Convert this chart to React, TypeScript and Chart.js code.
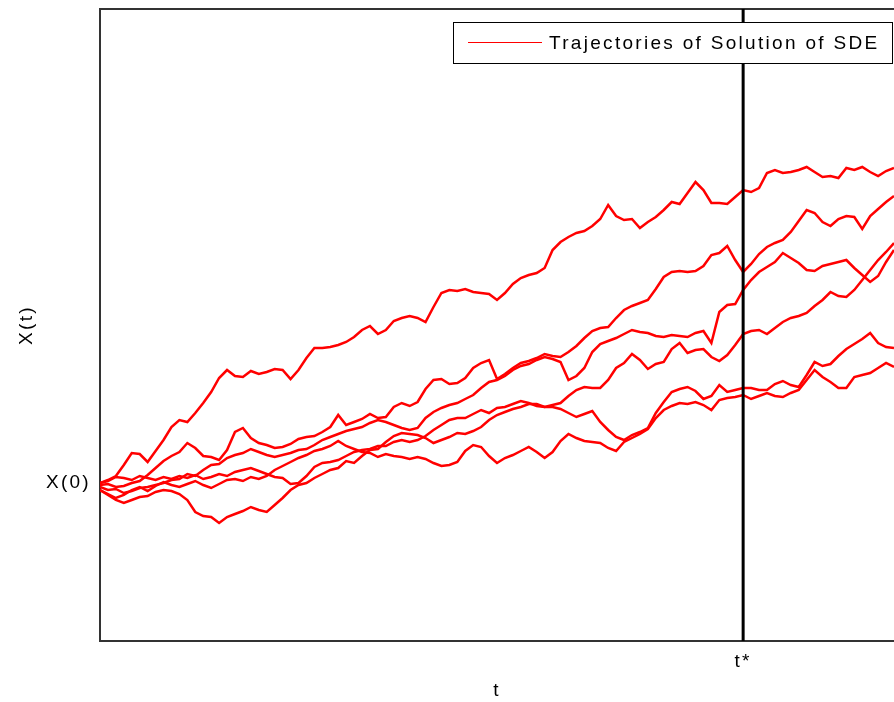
import React, { useEffect, useRef } from 'react';
import { Chart, registerables } from 'chart.js';

Chart.register(...registerables);

// Time grid t = 0.00 ... 1.00 (step 0.01)
const T_GRID: number[] = Array.from({ length: 101 }, (_, i) => Math.round(i) / 100);
const T_STAR = 0.81;
const X0 = 2.0;
const Y_MIN = 0.42;
const Y_MAX = 6.74;

// Sample paths of the SDE, one value per grid time
const PATH_1 = [
  2.00, 2.03, 2.07, 2.18, 2.30, 2.29, 2.21, 2.32, 2.43, 2.56,
  2.63, 2.61, 2.70, 2.80, 2.91, 3.05, 3.13, 3.07, 3.06, 3.12,
  3.09, 3.11, 3.14, 3.13, 3.04, 3.13, 3.25, 3.35, 3.35, 3.36,
  3.38, 3.41, 3.46, 3.53, 3.57, 3.49, 3.53, 3.62, 3.65, 3.67,
  3.65, 3.61, 3.76, 3.90, 3.93, 3.92, 3.94, 3.91, 3.90, 3.89,
  3.83, 3.90, 3.99, 4.05, 4.08, 4.10, 4.15, 4.33, 4.41, 4.46,
  4.50, 4.52, 4.57, 4.64, 4.78, 4.67, 4.63, 4.64, 4.55, 4.61,
  4.66, 4.73, 4.81, 4.79, 4.90, 5.01, 4.93, 4.80, 4.80, 4.79,
  4.86, 4.93, 4.91, 4.95, 5.10, 5.13, 5.10, 5.11, 5.13, 5.16,
  5.11, 5.06, 5.07, 5.05, 5.15, 5.13, 5.16, 5.11, 5.07, 5.12, 5.15,
];

const PATH_2 = [
  1.98, 1.99, 1.96, 1.97, 2.00, 2.02, 2.08, 2.15, 2.22, 2.27,
  2.31, 2.40, 2.35, 2.27, 2.26, 2.23, 2.33, 2.51, 2.55, 2.45,
  2.40, 2.38, 2.35, 2.36, 2.39, 2.44, 2.46, 2.47, 2.51, 2.56,
  2.68, 2.58, 2.61, 2.64, 2.69, 2.65, 2.66, 2.76, 2.80, 2.77,
  2.81, 2.94, 3.03, 3.04, 2.99, 3.00, 3.05, 3.15, 3.20, 3.23,
  3.04, 3.09, 3.15, 3.20, 3.22, 3.25, 3.29, 3.27, 3.26, 3.31,
  3.37, 3.45, 3.52, 3.55, 3.56, 3.65, 3.73, 3.77, 3.80, 3.83,
  3.94, 4.06, 4.11, 4.12, 4.11, 4.12, 4.17, 4.28, 4.30, 4.37,
  4.23, 4.11, 4.19, 4.29, 4.36, 4.40, 4.43, 4.51, 4.62, 4.73,
  4.70, 4.61, 4.57, 4.64, 4.67, 4.66, 4.54, 4.67, 4.74, 4.81, 4.87,
];

const PATH_3 = [
  1.96, 1.93, 1.94, 1.90, 1.92, 1.95, 1.96, 1.98, 2.00, 2.03,
  2.04, 2.09, 2.07, 2.13, 2.18, 2.19, 2.25, 2.28, 2.30, 2.34,
  2.31, 2.28, 2.26, 2.28, 2.30, 2.33, 2.34, 2.38, 2.43, 2.46,
  2.49, 2.52, 2.54, 2.56, 2.60, 2.63, 2.61, 2.58, 2.55, 2.53,
  2.55, 2.65, 2.71, 2.75, 2.78, 2.80, 2.84, 2.88, 2.95, 3.01,
  3.03, 3.07, 3.13, 3.17, 3.19, 3.23, 3.26, 3.24, 3.21, 3.03,
  3.07, 3.15, 3.31, 3.39, 3.42, 3.45, 3.49, 3.53, 3.51, 3.50,
  3.47, 3.46, 3.48, 3.47, 3.46, 3.50, 3.52, 3.40, 3.71, 3.78,
  3.79, 3.93, 4.03, 4.11, 4.16, 4.21, 4.30, 4.25, 4.20, 4.13,
  4.12, 4.17, 4.19, 4.21, 4.23, 4.15, 4.08, 4.01, 4.07, 4.21, 4.33,
];

const PATH_4 = [
  1.93, 1.88, 1.83, 1.80, 1.83, 1.86, 1.87, 1.91, 1.93, 1.92,
  1.89, 1.83, 1.71, 1.67, 1.66, 1.60, 1.66, 1.69, 1.72, 1.76,
  1.73, 1.71, 1.78, 1.85, 1.93, 1.98, 2.00, 2.05, 2.09, 2.13,
  2.15, 2.22, 2.20, 2.27, 2.33, 2.34, 2.41, 2.47, 2.50, 2.49,
  2.48, 2.45, 2.40, 2.43, 2.46, 2.50, 2.49, 2.52, 2.56, 2.63,
  2.68, 2.71, 2.74, 2.76, 2.79, 2.79, 2.76, 2.78, 2.80, 2.87,
  2.93, 2.96, 2.95, 2.95, 3.03, 3.15, 3.20, 3.29, 3.23, 3.14,
  3.19, 3.21, 3.34, 3.40, 3.30, 3.33, 3.34, 3.26, 3.22, 3.28,
  3.38, 3.49, 3.52, 3.53, 3.49, 3.55, 3.61, 3.65, 3.67, 3.70,
  3.77, 3.83, 3.91, 3.87, 3.86, 3.93, 4.03, 4.13, 4.23, 4.31, 4.40,
];

const PATH_5 = [
  2.00, 2.02, 2.06, 2.05, 2.03, 2.07, 2.05, 2.03, 2.06, 2.04,
  2.07, 2.05, 2.08, 2.04, 2.06, 2.09, 2.07, 2.11, 2.13, 2.15,
  2.12, 2.09, 2.06, 2.05, 1.99, 2.00, 2.07, 2.16, 2.20, 2.21,
  2.23, 2.27, 2.31, 2.33, 2.34, 2.37, 2.37, 2.41, 2.43, 2.41,
  2.43, 2.47, 2.53, 2.58, 2.63, 2.65, 2.65, 2.69, 2.73, 2.70,
  2.75, 2.76, 2.79, 2.82, 2.80, 2.77, 2.76, 2.76, 2.74, 2.70,
  2.66, 2.69, 2.72, 2.61, 2.53, 2.46, 2.43, 2.48, 2.51, 2.55,
  2.70, 2.81, 2.91, 2.94, 2.96, 2.92, 2.84, 2.87, 2.98, 2.91,
  2.93, 2.95, 2.95, 2.93, 2.93, 2.99, 3.02, 2.98, 2.96, 3.08,
  3.21, 3.17, 3.19, 3.27, 3.34, 3.39, 3.44, 3.50, 3.40, 3.36, 3.35,
];

const PATH_6 = [
  1.93, 1.89, 1.85, 1.88, 1.93, 1.96, 1.92, 1.97, 2.01, 1.98,
  1.96, 1.99, 2.02, 1.98, 1.95, 1.99, 2.03, 2.04, 2.02, 2.06,
  2.04, 2.07, 2.13, 2.17, 2.21, 2.25, 2.28, 2.32, 2.34, 2.37,
  2.42, 2.37, 2.34, 2.31, 2.30, 2.26, 2.29, 2.27, 2.26, 2.24,
  2.26, 2.24, 2.20, 2.17, 2.18, 2.21, 2.32, 2.38, 2.36, 2.27,
  2.20, 2.25, 2.28, 2.32, 2.36, 2.31, 2.25, 2.31, 2.42, 2.49,
  2.45, 2.42, 2.41, 2.40, 2.35, 2.32, 2.41, 2.45, 2.49, 2.54,
  2.65, 2.73, 2.77, 2.80, 2.79, 2.81, 2.78, 2.73, 2.83, 2.85,
  2.86, 2.88, 2.84, 2.87, 2.90, 2.87, 2.86, 2.90, 2.93, 3.03,
  3.13, 3.06, 3.01, 2.95, 2.95, 3.06, 3.08, 3.10, 3.15, 3.20, 3.16,
];

const PATHS = [PATH_1, PATH_2, PATH_3, PATH_4, PATH_5, PATH_6];

const LEGEND_TEXT = 'Trajectories of Solution of SDE';
const FONT_FAMILY = "'Liberation Sans', Arial, Helvetica, sans-serif";
const FONT_SIZE = 19;
const LETTER_SPACING = '2.3px';
const RED = '#ff0000';
const AXIS_COLOR = '#333333';

// Wider glyph spacing for every label drawn on the canvas
const spacingPlugin = {
  id: 'letterSpacing',
  beforeUpdate(chart: any) {
    chart.ctx.letterSpacing = LETTER_SPACING;
  },
  beforeDraw(chart: any) {
    chart.ctx.letterSpacing = LETTER_SPACING;
  },
};

// Boxed legend in the upper right corner of the plot
const legendBoxPlugin = {
  id: 'legendBox',
  afterDraw(chart: any) {
    const { ctx, chartArea } = chart;
    const w = 440;
    const h = 42;
    const x = chartArea.right - w - 1;
    const y = chartArea.top + 13;
    ctx.save();
    ctx.fillStyle = '#ffffff';
    ctx.fillRect(x, y, w, h);
    ctx.strokeStyle = '#000000';
    ctx.lineWidth = 1;
    ctx.strokeRect(x + 0.5, y + 0.5, w - 1, h - 1);
    ctx.strokeStyle = RED;
    ctx.beginPath();
    ctx.moveTo(x + 15, y + 20.5);
    ctx.lineTo(x + 89, y + 20.5);
    ctx.stroke();
    ctx.letterSpacing = LETTER_SPACING;
    ctx.fillStyle = '#000000';
    ctx.font = `${FONT_SIZE}px ${FONT_FAMILY}`;
    ctx.textBaseline = 'middle';
    ctx.textAlign = 'left';
    ctx.fillText(LEGEND_TEXT, x + 96, y + 22);
    ctx.restore();
  },
};

// Axes keep fixed sizes and no extra label padding, so the plot frame stays put
const noPadding = (scale: any) => {
  scale.paddingTop = 0;
  scale.paddingBottom = 0;
  scale.paddingLeft = 0;
  scale.paddingRight = 0;
};

export default function App() {
  const canvasRef = useRef<HTMLCanvasElement | null>(null);

  useEffect(() => {
    const canvas = canvasRef.current;
    if (!canvas) return;

    const font = { family: FONT_FAMILY, size: FONT_SIZE };

    const datasets: any[] = [
      {
        label: 't*',
        data: [
          { x: T_STAR, y: Y_MIN },
          { x: T_STAR, y: Y_MAX },
        ],
        borderColor: '#000000',
        borderWidth: 3,
        pointRadius: 0,
        order: 0,
      },
      ...PATHS.map((path, i) => ({
        label: `path ${i + 1}`,
        data: T_GRID.map((t, j) => ({ x: t, y: path[j] })),
        borderColor: RED,
        borderWidth: 2.5,
        pointRadius: 0,
        tension: 0,
        borderJoinStyle: 'miter',
        order: 1,
      })),
    ];

    const chart = new Chart(canvas, {
      type: 'line',
      data: { datasets },
      plugins: [spacingPlugin, legendBoxPlugin],
      options: {
        animation: false,
        responsive: false,
        devicePixelRatio: 1,
        layout: { padding: 0 },
        plugins: {
          legend: { display: false },
          tooltip: { enabled: false },
        },
        scales: {
          x: {
            type: 'linear',
            position: 'bottom',
            min: 0,
            max: 1,
            grid: { display: false, drawTicks: false },
            border: { display: true, color: AXIS_COLOR, width: 2 },
            afterBuildTicks: (scale: any) => {
              scale.ticks = [{ value: T_STAR }];
            },
            afterFit: (scale: any) => {
              scale.height = 61;
              noPadding(scale);
            },
            ticks: {
              autoSkip: false,
              maxRotation: 0,
              padding: 9,
              color: '#000000',
              font,
              callback: () => 't*',
            },
            title: {
              display: true,
              text: 't',
              color: '#000000',
              font,
              padding: { top: 0, bottom: 0 },
            },
          },
          xTop: {
            type: 'linear',
            position: 'top',
            min: 0,
            max: 1,
            grid: { display: false, drawTicks: false },
            border: { display: true, color: AXIS_COLOR, width: 2 },
            ticks: { display: false },
            afterFit: (scale: any) => {
              scale.height = 9;
              noPadding(scale);
            },
          },
          y: {
            type: 'linear',
            position: 'left',
            min: Y_MIN,
            max: Y_MAX,
            grid: { display: false, drawTicks: false },
            border: { display: true, color: AXIS_COLOR, width: 2 },
            afterBuildTicks: (scale: any) => {
              scale.ticks = [{ value: X0 }];
            },
            afterFit: (scale: any) => {
              scale.width = 100;
              noPadding(scale);
            },
            ticks: {
              autoSkip: false,
              padding: 9,
              color: '#000000',
              font,
              callback: () => 'X(0)',
            },
            title: {
              display: true,
              text: 'X(t)',
              color: '#000000',
              font,
              padding: { top: 15, bottom: 0 },
            },
          },
        },
      } as any,
    });

    return () => {
      chart.destroy();
    };
  }, []);

  return (
    <div style={{ position: 'absolute', left: 0, top: 0, width: 894, height: 702, background: '#ffffff' }}>
      <canvas ref={canvasRef} width={894} height={702} style={{ display: 'block' }} />
    </div>
  );
}
